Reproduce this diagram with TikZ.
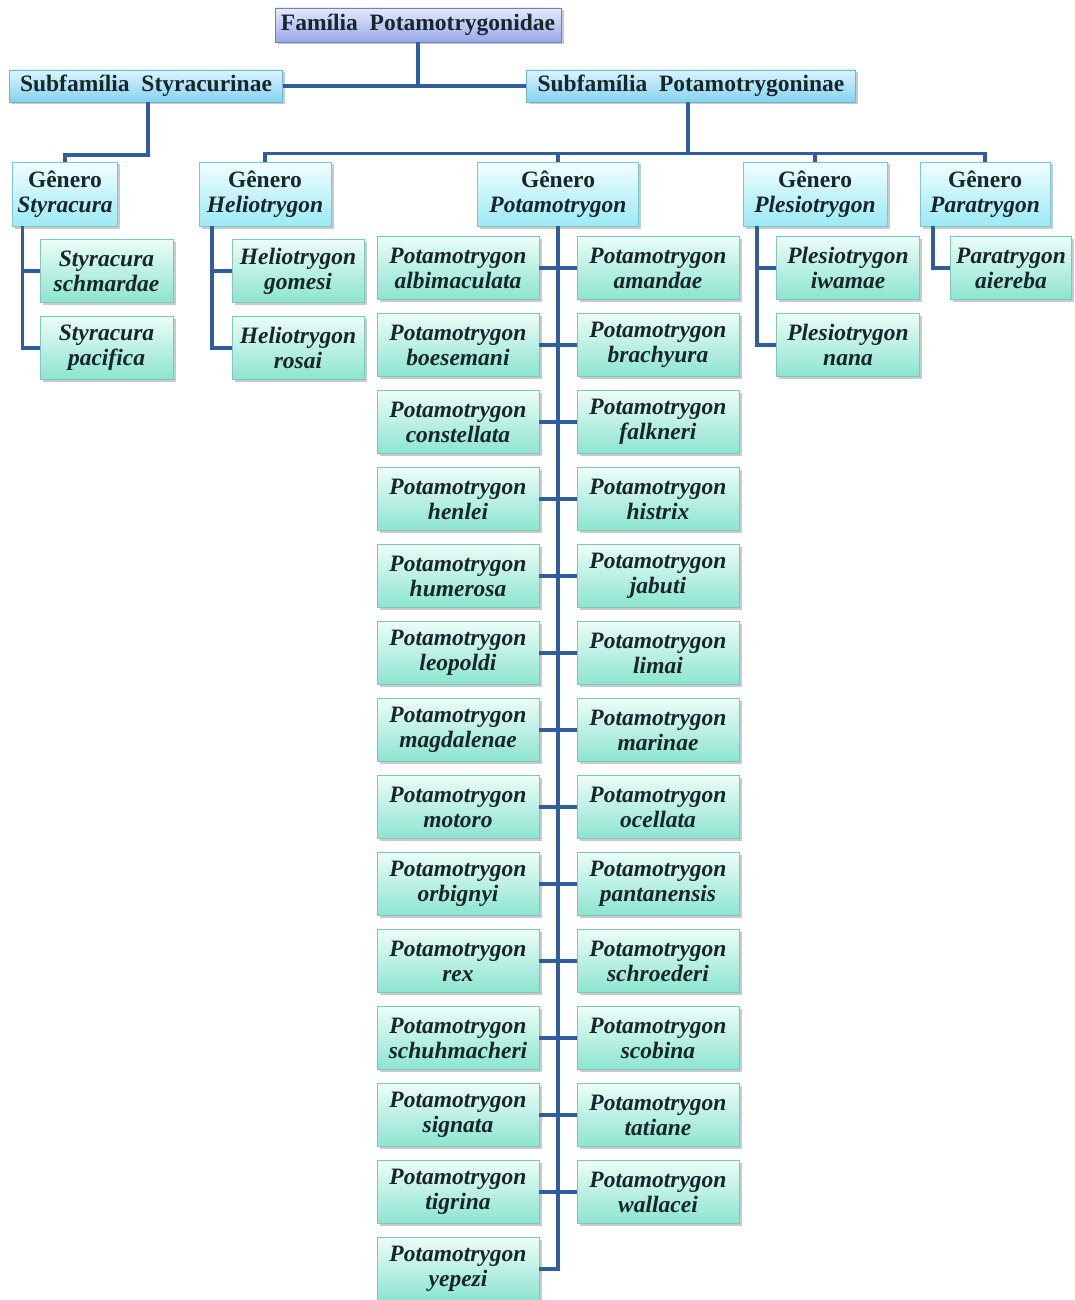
\documentclass[tikz,border=0pt]{standalone}
\usepackage{fontspec}
\setmainfont{Liberation Serif}
\usetikzlibrary{shadows,calc}
\definecolor{txt}{HTML}{16262A}
\definecolor{conn}{HTML}{2F5D9E}
\definecolor{famD}{HTML}{7080C0}
\definecolor{famT}{HTML}{E6EAFC}
\definecolor{famB}{HTML}{98A7E8}
\definecolor{subD}{HTML}{6FB6D6}
\definecolor{subT}{HTML}{DAF5FD}
\definecolor{subB}{HTML}{86D2EF}
\definecolor{genD}{HTML}{7CC6D6}
\definecolor{genT}{HTML}{F2FEFF}
\definecolor{genB}{HTML}{9CEAF4}
\definecolor{spD}{HTML}{7EC8B6}
\definecolor{spT}{HTML}{ECFDF8}
\definecolor{spB}{HTML}{8CE4D0}
\tikzset{
  box/.style={rectangle, inner sep=0pt, align=center, text=txt,
    font=\fontsize{23.5}{25}\selectfont\bfseries,
    drop shadow={shadow xshift=2.5pt, shadow yshift=-2.5pt, fill=black!35, opacity=0.6}},
  famb/.style={box, draw=famD, top color=famT, bottom color=famB, minimum width=286pt, minimum height=34pt},
  subb/.style={box, draw=subD, top color=subT, bottom color=subB, minimum height=32pt},
  genb/.style={box, draw=genD, top color=genT, bottom color=genB, minimum height=64pt},
  spb/.style={box, draw=spD, top color=spT, bottom color=spB, minimum height=63pt,
    font=\fontsize{23.5}{25}\selectfont\bfseries\itshape},
  link/.style={draw=conn, line width=3.4pt},
}
\begin{document}
\begin{tikzpicture}[x=1pt,y=-1pt]
\useasboundingbox (0,0) rectangle (1075,1300);
% connectors first (behind boxes)
\coordinate (famS) at (418,42);
% top levels
\node[famb] (fam) at (418,25) {Família\ \ Potamotrygonidae};
\node[subb, minimum width=273pt] (subS) at (146,86) {Subfamília\ \ Styracurinae};
\node[subb, minimum width=329pt] (subP) at (691,86) {Subfamília\ \ Potamotrygoninae};
% genera
\node[genb, minimum width=105pt] (gS) at (65,194) {Gênero\\\textit{Styracura}};
\node[genb, minimum width=132pt] (gH) at (265,194) {Gênero\\\textit{Heliotrygon}};
\node[genb, minimum width=161pt] (gPo) at (558,194) {Gênero\\\textit{Potamotrygon}};
\node[genb, minimum width=144pt] (gPl) at (815,194) {Gênero\\\textit{Plesiotrygon}};
\node[genb, minimum width=130pt] (gPa) at (985,194) {Gênero\\\textit{Paratrygon}};
% species Styracura
\node[spb, minimum width=133pt] (s1) at (106.5,271) {Styracura\\schmardae};
\node[spb, minimum width=133pt] (s2) at (106.5,348) {Styracura\\pacifica};
% Heliotrygon
\node[spb, minimum width=132pt] (h1) at (298,271) {Heliotrygon\\gomesi};
\node[spb, minimum width=132pt] (h2) at (298,348) {Heliotrygon\\rosai};
% Potamotrygon
\foreach \n [count=\i from 0] in {albimaculata,boesemani,constellata,henlei,humerosa,leopoldi,magdalenae,motoro,orbignyi,rex,schuhmacheri,signata,tigrina,yepezi}
  \node[spb, minimum width=162pt] (L\i) at (458,268+77*\i) {Potamotrygon\\\n};
\foreach \n [count=\i from 0] in {amandae,brachyura,falkneri,histrix,jabuti,limai,marinae,ocellata,pantanensis,schroederi,scobina,tatiane,wallacei}
  \node[spb, minimum width=162pt] (R\i) at (658,268+77*\i) {Potamotrygon\\\n};
% Plesiotrygon
\node[spb, minimum width=143pt] (p1) at (848,268) {Plesiotrygon\\iwamae};
\node[spb, minimum width=143pt] (p2) at (848,345) {Plesiotrygon\\nana};
% Paratrygon
\node[spb, minimum width=121pt] (a1) at (1011,268) {Paratrygon\\aiereba};
% connectors
\draw[link] (fam.south) -- (fam.south |- subS.east);
\draw[link] (subS.east) -- (subP.west);
\draw[link] ([xshift=2pt]subS.south) -- ++(0,53) -| (gS.north);
\draw[link] ([xshift=-3pt]subP.south) -- ++(0,53);
\draw[link] (gH.north) -- ++(0,-8) -| (gPa.north);
\draw[link] (gPo.north) -- ++(0,-8);
\draw[link] (gPl.north) -- ++(0,-8);
\draw[link] ([xshift=10pt]gS.south west) |- (s1.west);
\draw[link] ([xshift=10pt]gS.south west) |- (s2.west);
\draw[link] ([xshift=13pt]gH.south west) |- (h1.west);
\draw[link] ([xshift=13pt]gH.south west) |- (h2.west);
\draw[link] (gPo.south) |- (L13.east);
\foreach \i in {0,...,12} \draw[link] (L\i.east) -- (R\i.west);
\draw[link] ([xshift=14pt]gPl.south west) |- (p1.west);
\draw[link] ([xshift=14pt]gPl.south west) |- (p2.west);
\draw[link] ([xshift=13pt]gPa.south west) |- (a1.west);
\end{tikzpicture}
\end{document}
